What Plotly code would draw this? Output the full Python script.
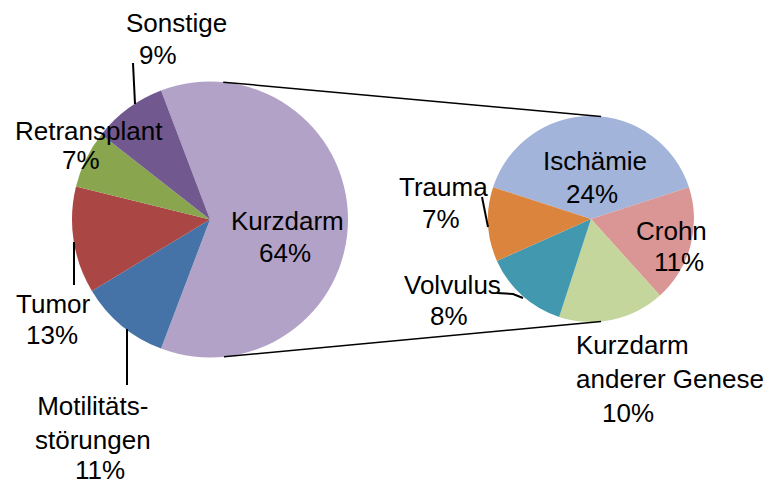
import math
import plotly.graph_objects as go

W, H = 773, 487
PAGE_OFF = 8  # default body margin of the html page
FIG_W, FIG_H = W - PAGE_OFF, H - PAGE_OFF

# main pie
main_labels = ["Kurzdarm", "Motilitäts-<br>störungen", "Tumor", "Retransplant", "Sonstige"]
main_values = [64, 11, 13, 7, 9]
main_colors = ["#B3A2C7", "#4572A7", "#AA4643", "#89A54E", "#71588F"]

# second pie: split of Kurzdarm
sub_labels = ["Ischämie", "Crohn", "Kurzdarm<br>anderer Genese", "Volvulus", "Trauma"]
sub_values = [24, 11, 10, 8, 7]
sub_colors = ["#A2B4DA", "#D99694", "#C4D69B", "#4198AF", "#DB843D"]

# geometry in screen pixels (center x, center y, radius)
L_CX, L_CY, L_R = 210, 219.5, 138
R_CX, R_CY, R_R = 591, 219, 103

# label positions in screen pixels
main_name_xy = [(287, 221), (93, 423), (53, 303.5), (89, 131.5), (176, 23)]
main_pct_xy = [(284.5, 253), (99.5, 470), (52, 335), (81, 160), (158, 55)]
sub_name_xy = [(595, 161), (671, 231), (575, 361.5), (452, 284.5), (443, 187)]
sub_name_anchor = ["center", "center", "left", "center", "center"]
sub_pct_xy = [(592, 193.5), (679, 261.5), (628, 412.5), (449, 316), (441, 219)]

leaders = [
    [(133, 63), (135, 104)],
    [(74, 242), (74, 285)],
    [(127, 329), (127, 385)],
    [(482, 197), (488, 227)],
    [(497, 293), (513, 294), (523, 298)],
]

FONT = dict(family="Liberation Sans, Arial, sans-serif", size=26, color="black")


def px(x):
    return (x - PAGE_OFF) / FIG_W


def py(y):
    return 1 - (y - PAGE_OFF) / FIG_H


def domain(cx, cy, r):
    return dict(x=[px(cx - r), px(cx + r)], y=[py(cy + r), py(cy - r)])


def on_circle(cx, cy, r, deg):
    a = math.radians(deg)
    return cx + r * math.sin(a), cy - r * math.cos(a)


fig = go.Figure()

main_rot = 90 - 360 * main_values[0] / sum(main_values) / 2
fig.add_trace(go.Pie(labels=[l.replace("<br>", " ") for l in main_labels], values=main_values,
                     marker=dict(colors=main_colors, line=dict(width=0)),
                     sort=False, direction="clockwise", rotation=main_rot,
                     textinfo="none", domain=domain(L_CX, L_CY, L_R)))

sub_rot = -360 * sub_values[0] / sum(sub_values) / 2
fig.add_trace(go.Pie(labels=[l.replace("<br>", " ") for l in sub_labels], values=sub_values,
                     marker=dict(colors=sub_colors, line=dict(width=0)),
                     sort=False, direction="clockwise", rotation=sub_rot,
                     textinfo="none", domain=domain(R_CX, R_CY, R_R)))

annotations = []
for lab, (x, y) in zip(main_labels, main_name_xy):
    annotations.append(dict(x=px(x), y=py(y), text=lab, xanchor="center", align="center"))
for v, (x, y) in zip(main_values, main_pct_xy):
    annotations.append(dict(x=px(x), y=py(y), text=f"{v}%", xanchor="center"))
for lab, (x, y), anc in zip(sub_labels, sub_name_xy, sub_name_anchor):
    annotations.append(dict(x=px(x), y=py(y), text=lab, xanchor=anc, align=anc))
for v, (x, y) in zip(sub_values, sub_pct_xy):
    annotations.append(dict(x=px(x), y=py(y), text=f"{v}%", xanchor="center"))
for a in annotations:
    a.update(xref="paper", yref="paper", yanchor="middle", showarrow=False, font=FONT,
             borderpad=0)

shapes = []
# connector lines between the pies
for la, ra in [(5.5, 5.6), (174.2, 174.4)]:
    x0, y0 = on_circle(L_CX, L_CY, L_R, la)
    x1, y1 = on_circle(R_CX, R_CY, R_R, ra)
    shapes.append(dict(type="line", xref="paper", yref="paper",
                       x0=px(x0), y0=py(y0), x1=px(x1), y1=py(y1),
                       line=dict(color="black", width=1.5)))
# leader lines
for pts in leaders:
    path = "M " + " L ".join(f"{px(x)},{py(y)}" for x, y in pts)
    shapes.append(dict(type="path", xref="paper", yref="paper", path=path,
                       line=dict(color="black", width=2)))

fig.update_layout(width=FIG_W, height=FIG_H, margin=dict(l=0, r=0, t=0, b=0),
                  paper_bgcolor="white", plot_bgcolor="white", showlegend=False,
                  annotations=annotations, shapes=shapes)

fig.write_html("out.html")
